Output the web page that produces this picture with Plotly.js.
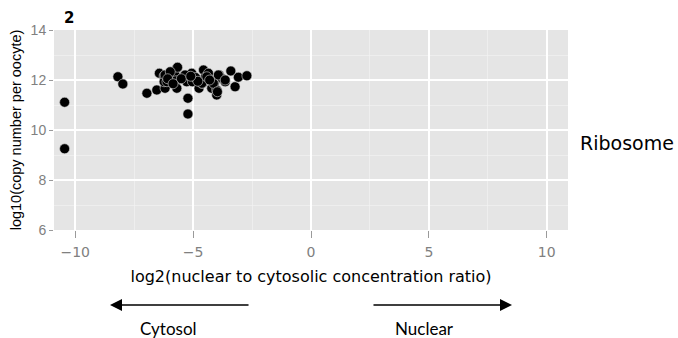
<!DOCTYPE html>
<html>
<head>
<meta charset="utf-8">
<script src="https://cdn.plot.ly/plotly-3.0.1.min.js"></script>
<style>html,body{margin:0;padding:0;background:#fff;}#chart{width:678px;height:338px;}</style>
</head>
<body>
<div id="chart"></div>
<script>
// log2(nuclear to cytosolic concentration ratio)
var ratioLog2 = [-10.45, -10.45, -8.19, -7.98, -6.96, -6.54, -6.43, -6.19, -6.23, -6.23,
  -5.69, -5.76, -5.72, -5.69, -5.41, -5.22, -5.22, -5.27, -5.06, -5.03,
  -4.75, -4.56, -4.60, -4.49, -4.35, -4.21, -4.10, -4.00, -4.00, -3.89,
  -3.79, -3.64, -3.40, -3.22, -3.08, -2.72, -5.66, -6.19, -6.11, -5.34,
  -4.63, -4.42, -4.14, -3.93, -3.97, -3.64, -5.97, -6.08, -5.50, -4.90,
  -4.80, -5.85, -4.30, -5.10];
// log10(copy number per oocyte)
var copyLog10 = [11.11, 9.25, 12.13, 11.84, 11.47, 11.60, 12.27, 11.67, 12.16, 11.93,
  12.47, 12.20, 11.97, 11.67, 12.13, 11.27, 10.64, 11.93, 12.27, 11.93,
  11.67, 12.40, 11.87, 12.11, 12.27, 11.67, 11.89, 11.40, 11.60, 12.20,
  12.07, 11.93, 12.36, 11.73, 12.11, 12.17, 12.51, 12.20, 11.93, 12.20,
  11.87, 12.13, 11.87, 12.20, 11.53, 12.00, 12.33, 12.05, 12.05, 12.10,
  11.95, 11.85, 12.00, 12.15];
var xTicks = [-10, -5, 0, 5, 10];
var xTickText = ['\u221210', '\u22125', '0', '5', '10'];
var yTicks = [6, 8, 10, 12, 14];
var yTickText = ['6', '8', '10', '12', '14'];

var trace = {
  type: 'scatter', mode: 'markers',
  x: ratioLog2, y: copyLog10,
  marker: {size: 10, color: '#000000', line: {color: '#d8d8d8', width: 0.6}},
  hoverinfo: 'x+y'
};

var axisCommon = {
  showgrid: true, gridcolor: '#ffffff', gridwidth: 1.5,
  zeroline: false, showline: false,
  ticks: 'outside', tickwidth: 1, tickcolor: '#9a9a9a',
  tickmode: 'array'
};

var layout = {
  width: 678, height: 338,
  margin: {l: 54, r: 110, t: 30, b: 108},
  paper_bgcolor: '#ffffff', plot_bgcolor: '#e5e5e5',
  showlegend: false,
  font: {family: 'Liberation Sans, Arial, sans-serif'},
  xaxis: Object.assign({}, axisCommon, {
    range: [-10.9, 10.9], tickvals: xTicks, ticktext: xTickText,
    ticklen: 7, ticklabelstandoff: 2,
    tickfont: {family: 'DejaVu Sans, sans-serif', size: 14, color: '#808080'},
    minor: {dtick: 2.5, tick0: 0, showgrid: true, gridcolor: '#f2f2f2', gridwidth: 0.7, ticks: ''},
    title: {text: 'log2(nuclear to cytosolic concentration ratio)', standoff: 12,
      font: {family: 'DejaVu Sans, sans-serif', size: 16, color: '#000000'}}
  }),
  yaxis: Object.assign({}, axisCommon, {
    range: [6, 14], tickvals: yTicks, ticktext: yTickText,
    ticklen: 4,
    tickfont: {family: 'Liberation Sans, Arial, sans-serif', size: 14, color: '#808080'},
    minor: {dtick: 1, tick0: 0, showgrid: true, gridcolor: '#f2f2f2', gridwidth: 0.7, ticks: ''},
    ticklabelstandoff: 0,
    title: {text: 'log10(copy number per oocyte)', standoff: 5,
      font: {family: 'Liberation Sans, Arial, sans-serif', size: 14.5, color: '#000000'}}
  }),
  annotations: [
    {xref: 'paper', yref: 'paper', x: 0.0155, y: 1.06, xanchor: 'left', yanchor: 'middle',
     text: '<b>2</b>', showarrow: false, font: {family: 'DejaVu Sans, sans-serif', size: 15, color: '#000'}},
    {xref: 'paper', yref: 'paper', x: 1.019, y: 0.435, xanchor: 'left', yanchor: 'middle',
     text: 'Ribosome', showarrow: false, font: {family: 'DejaVu Sans, sans-serif', size: 19, color: '#000'}},
    {xref: 'paper', yref: 'paper', x: 0.109, y: -0.375, ax: 140, ay: 0, axref: 'pixel', ayref: 'pixel',
     text: '', showarrow: true, arrowhead: 2, arrowsize: 1.6, arrowwidth: 1.5, arrowcolor: '#000'},
    {xref: 'paper', yref: 'paper', x: 0.891, y: -0.375, ax: -140, ay: 0, axref: 'pixel', ayref: 'pixel',
     text: '', showarrow: true, arrowhead: 2, arrowsize: 1.6, arrowwidth: 1.5, arrowcolor: '#000'},
    {xref: 'paper', yref: 'paper', x: 0.222, y: -0.49, xanchor: 'center', yanchor: 'middle',
     text: 'Cytosol', showarrow: false, font: {family: 'Lato, Liberation Sans, sans-serif', size: 17, color: '#000'}},
    {xref: 'paper', yref: 'paper', x: 0.72, y: -0.49, xanchor: 'center', yanchor: 'middle',
     text: 'Nuclear', showarrow: false, font: {family: 'Lato, Liberation Sans, sans-serif', size: 17, color: '#000'}}
  ]
};

Plotly.newPlot('chart', [trace], layout, {displayModeBar: false, staticPlot: true});
</script>
</body>
</html>
